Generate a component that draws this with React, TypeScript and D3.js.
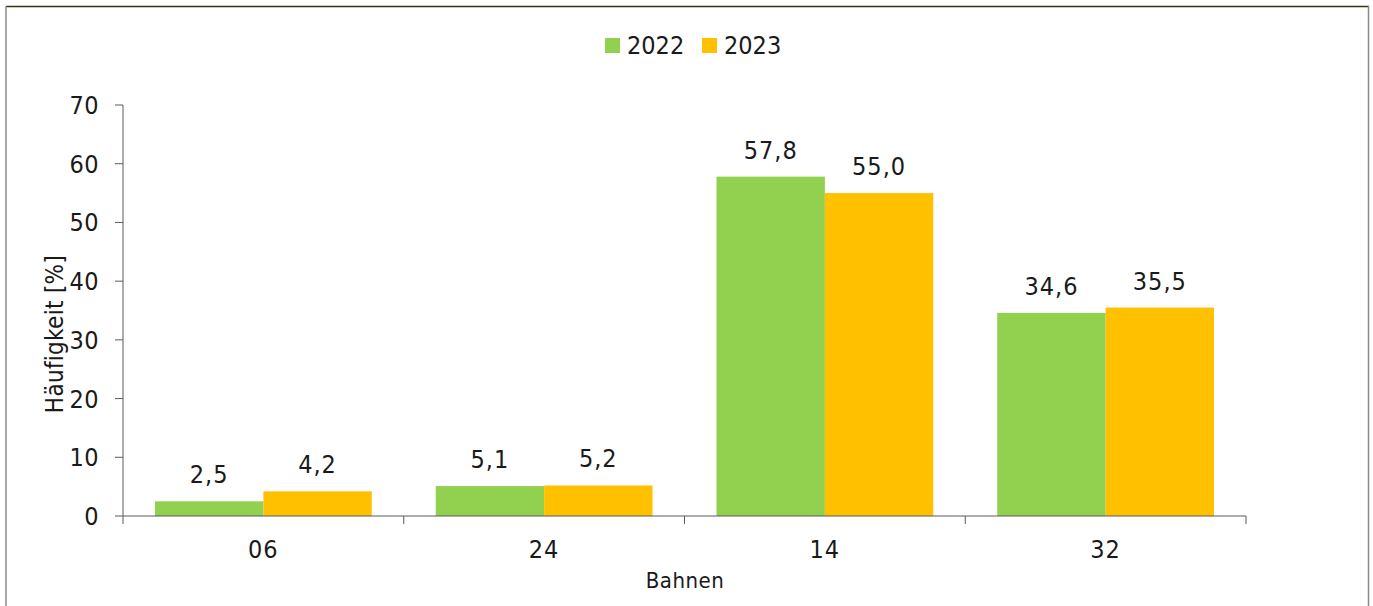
import React from "react";
import * as d3 from "d3";

const categories = ["06", "24", "14", "32"];
const series = ["2022", "2023"];
const values2022 = [2.5, 5.1, 57.8, 34.6];
const values2023 = [4.2, 5.2, 55.0, 35.5];
const yTicks = [0, 10, 20, 30, 40, 50, 60, 70];
const colors = ["#92D050", "#FFC000"];

const W = 1373;
const H = 606;
const FONT = "'Liberation Sans Narrow', 'DejaVu Sans Condensed', sans-serif";
const TEXT = "#1a1a1a";
const AXIS = "#5a5a5a";

export default function App() {
  const x = d3.scaleBand<string>().domain(categories).range([123, 1246]).paddingInner(0).paddingOuter(0);
  const bw = x.bandwidth();
  const xs = d3.scaleBand<string>().domain(series).range([32, bw - 32]).paddingInner(0);
  const y = d3.scaleLinear().domain([0, 70]).range([516, 105]);
  const fmt = (v: number) => d3.format(".1f")(v).replace(".", ",");
  const data = [values2022, values2023];
  const boundaries = [...categories.map((c) => x(c) as number), 1246];

  return (
    <svg
      width={W}
      height={H}
      style={{ position: "absolute", left: 0, top: 0, background: "#fff" }}
      fontFamily={FONT}
    >
      <rect x={0} y={0} width={W} height={H} fill="#fff" />
      {/* border */}
      <line x1={6} y1={6.5} x2={1369} y2={6.5} stroke="#2f3515" strokeWidth={1.5} />
      <line x1={6} y1={6} x2={6} y2={H} stroke="#8a8a8a" strokeWidth={1.5} />
      <line x1={1368.5} y1={6} x2={1368.5} y2={H} stroke="#8a8a8a" strokeWidth={1.5} />

      {/* legend */}
      {series.map((s, i) => {
        const lx = 605 + i * 97;
        return (
          <g key={s}>
            <rect x={lx} y={38} width={15} height={15} fill={colors[i]} />
            <text x={lx + 22} y={54} fontSize={25} fill={TEXT} letterSpacing={0}>
              {s}
            </text>
          </g>
        );
      })}

      {/* y axis */}
      <line x1={123} y1={y(70)} x2={123} y2={y(0)} stroke={AXIS} strokeWidth={1} />
      {yTicks.map((t) => (
        <g key={t}>
          <line x1={115} x2={123} y1={y(t)} y2={y(t)} stroke={AXIS} strokeWidth={1} />
          <text
            x={99}
            y={y(t)}
            dy="0.36em"
            textAnchor="end"
            fontSize={25}
            fill={TEXT}
            letterSpacing={0.5}
          >
            {t}
          </text>
        </g>
      ))}

      {/* bars */}
      {categories.map((c, ci) => (
        <g key={c} transform={`translate(${x(c)},0)`}>
          {series.map((s, si) => {
            const v = data[si][ci];
            const bx = xs(s) as number;
            return (
              <g key={s}>
                <rect x={bx} y={y(v)} width={xs.bandwidth()} height={y(0) - y(v)} fill={colors[si]} />
                <text
                  x={bx + xs.bandwidth() / 2}
                  y={y(v) - 18}
                  textAnchor="middle"
                  fontSize={25}
                  fill={TEXT}
                  letterSpacing={1}
                >
                  {fmt(v)}
                </text>
              </g>
            );
          })}
        </g>
      ))}

      {/* x axis */}
      <line x1={123} y1={y(0)} x2={1246} y2={y(0)} stroke={AXIS} strokeWidth={1} />
      {boundaries.map((b, i) => (
        <line key={i} x1={b} x2={b} y1={y(0)} y2={y(0) + 8} stroke={AXIS} strokeWidth={1} />
      ))}
      {categories.map((c) => (
        <text
          key={c}
          x={(x(c) as number) + bw / 2}
          y={558}
          textAnchor="middle"
          fontSize={25}
          fill={TEXT}
          letterSpacing={1}
        >
          {c}
        </text>
      ))}

      {/* axis titles */}
      <text x={685} y={588} textAnchor="middle" fontSize={22} fill={TEXT} letterSpacing={0.5}>
        Bahnen
      </text>
      <text
        transform={`translate(63,334) rotate(-90)`}
        textAnchor="middle"
        fontSize={24}
        fill={TEXT}
        letterSpacing={0.3}
      >
        Häufigkeit [%]
      </text>
    </svg>
  );
}
